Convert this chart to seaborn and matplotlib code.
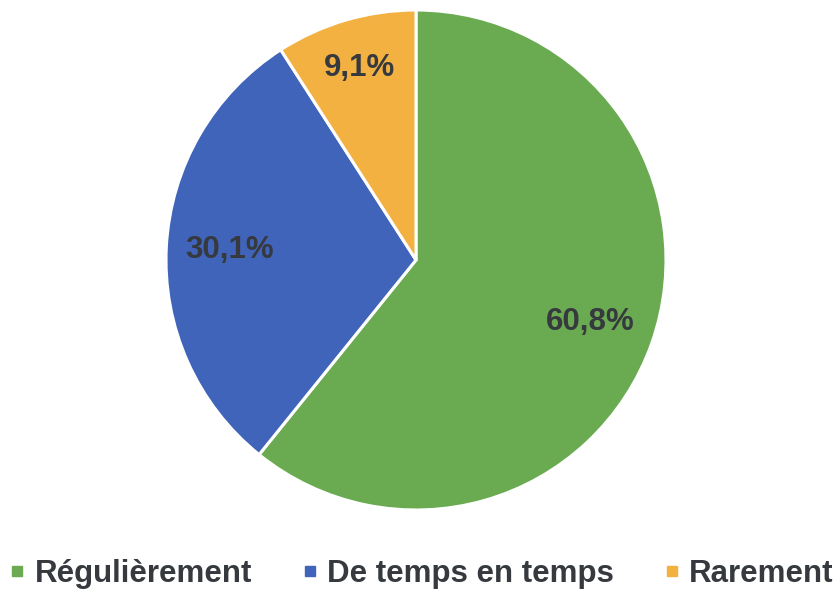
import numpy as np
import matplotlib
matplotlib.use("Agg")
import matplotlib.pyplot as plt
from matplotlib.lines import Line2D
import seaborn as sns

# Survey answers and their shares (%)
categories = ["Régulièrement", "De temps en temps", "Rarement"]
shares = [60.8, 30.1, 9.1]
labels = ["60,8%", "30,1%", "9,1%"]

sns.set_theme(style="white")
plt.rcParams["font.family"] = ["Liberation Sans", "DejaVu Sans"]

colors = ["#6aab52", "#4064b9", "#f3b142"]
text_color = "#363a3e"

fig = plt.figure(figsize=(8.4, 5.89), dpi=100)
W, H = 840, 589
cx, cy, r = 416, 260, 250
ax = fig.add_axes([(cx - r) / W, (H - cy - r) / H, 2 * r / W, 2 * r / H])

wedges, _ = ax.pie(
    shares,
    colors=colors,
    startangle=90,
    counterclock=False,
    wedgeprops=dict(edgecolor="white", linewidth=2.2),
)
ax.set_xlim(-1, 1)
ax.set_ylim(-1, 1)
ax.set_aspect("equal")
ax.axis("off")

# value labels inside each slice
label_dist = [0.74, 0.745, 0.80]
for w, lab, d in zip(wedges, labels, label_dist):
    mid = np.deg2rad((w.theta1 + w.theta2) / 2)
    ax.text(d * np.cos(mid), d * np.sin(mid), lab, ha="center", va="center",
            fontsize=22.5, fontweight="bold", color=text_color)

handles = [Line2D([], [], marker="s", linestyle="", color=c, markersize=6.5)
           for c in colors]
leg = fig.legend(handles, categories, loc="center", bbox_to_anchor=(0.498, 0.025),
                 ncol=3, frameon=False, handletextpad=0.1, columnspacing=1.4,
                 handlelength=0.9, prop=dict(size=22.5, weight="bold"))
for t in leg.get_texts():
    t.set_color(text_color)

fig.savefig("out.png", dpi=100, facecolor="white")
